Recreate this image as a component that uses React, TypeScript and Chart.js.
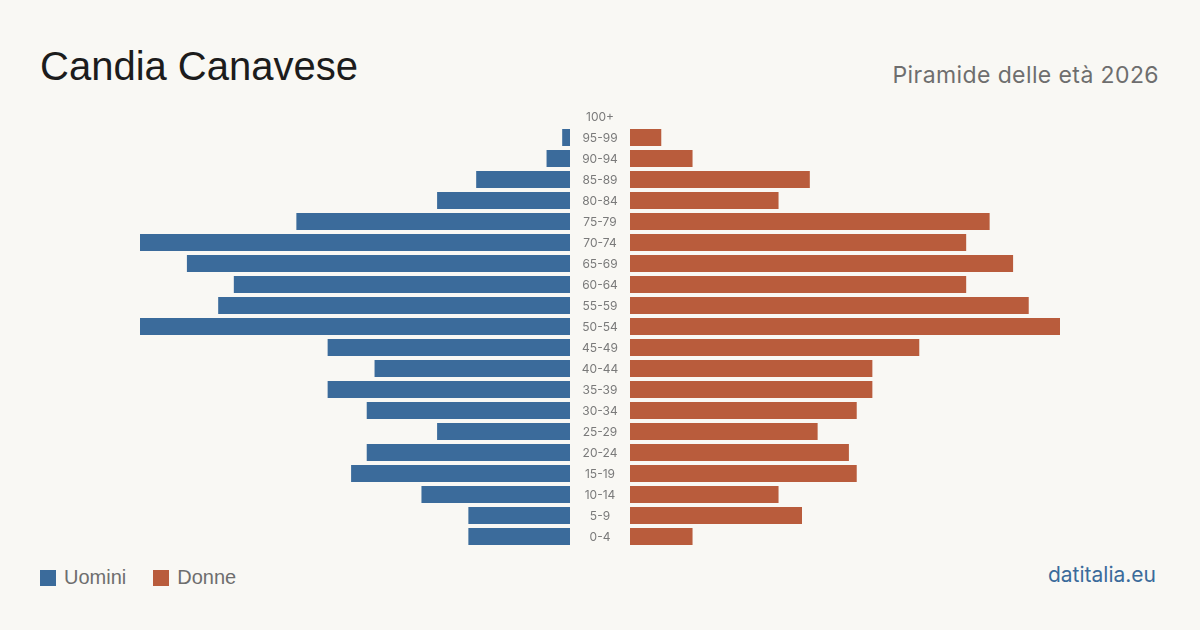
import React, { useEffect, useRef } from "react";
import { Chart, registerables } from "chart.js";

Chart.register(...registerables);

// Age groups, oldest first (top of the pyramid)
const ageGroups = [
  "100+", "95-99", "90-94", "85-89", "80-84", "75-79", "70-74", "65-69",
  "60-64", "55-59", "50-54", "45-49", "40-44", "35-39", "30-34", "25-29",
  "20-24", "15-19", "10-14", "5-9", "0-4",
];

// Residents per age group
const uomini = [0, 1, 3, 12, 17, 35, 55, 49, 43, 45, 55, 31, 25, 31, 26, 17, 26, 28, 19, 13, 13];
const donne = [0, 4, 8, 23, 19, 46, 43, 49, 43, 51, 55, 37, 31, 31, 29, 24, 28, 29, 19, 22, 8];

const axisMax = Math.max(...uomini, ...donne);

const BLUE = "#3b6b9b";
const ORANGE = "#b95c3c";
const BG = "#f9f8f4";
const FONT = "'Liberation Sans', Arial, sans-serif";
const FONT2 = "Inter, 'Liberation Sans', sans-serif";

// Draws the age-group labels in the gap left of the right-hand plot area
const centerLabels = {
  id: "centerLabels",
  afterDraw(chart: any) {
    const { ctx, chartArea, scales } = chart;
    ctx.save();
    ctx.fillStyle = "#7a7a7a";
    ctx.font = `12px ${FONT2}`;
    ctx.textAlign = "center";
    ctx.textBaseline = "middle";
    ageGroups.forEach((label, i) => {
      ctx.fillText(label, chartArea.left - 30, scales.y.getPixelForValue(i) + 1);
    });
    ctx.restore();
  },
};

function makeConfig(data: number[], color: string, reverse: boolean, withLabels: boolean): any {
  return {
    type: "bar",
    data: {
      labels: ageGroups,
      datasets: [
        {
          data,
          backgroundColor: color,
          borderWidth: 0,
          barPercentage: 0.81,
          categoryPercentage: 1,
        },
      ],
    },
    options: {
      indexAxis: "y",
      responsive: false,
      animation: false,
      maintainAspectRatio: false,
      layout: { padding: { left: withLabels ? 60 : 0, right: 0, top: 0, bottom: 0 } },
      plugins: { legend: { display: false }, tooltip: { enabled: false } },
      scales: {
        x: {
          display: false,
          min: 0,
          max: axisMax,
          reverse,
        },
        y: {
          display: false,
        },
      },
    },
    plugins: withLabels ? [centerLabels] : [],
  };
}

function PyramidSide({ data, color, reverse, withLabels, left, width }: any) {
  const ref = useRef<HTMLCanvasElement>(null);
  useEffect(() => {
    const chart = new Chart(ref.current!, makeConfig(data, color, reverse, withLabels));
    return () => chart.destroy();
  }, []);
  return (
    <canvas
      ref={ref}
      width={width}
      height={441}
      style={{ position: "absolute", left, top: 106, width, height: 441 }}
    />
  );
}

export default function App() {
  return (
    <div
      style={{
        position: "fixed",
        left: 0,
        top: 0,
        width: 1200,
        height: 630,
        background: BG,
        fontFamily: FONT,
        overflow: "hidden",
      }}
    >
      <div style={{ position: "absolute", left: 40, top: 42, fontSize: 40, color: "#1c1c1c", lineHeight: "48px" }}>
        Candia Canavese
      </div>
      <div
        style={{
          position: "absolute",
          right: 41,
          top: 61,
          fontSize: 23,
          letterSpacing: 0.4,
          color: "#6e6e6e",
          lineHeight: "28px",
          fontFamily: FONT2,
        }}
      >
        Piramide delle età 2026
      </div>

      <PyramidSide data={uomini} color={BLUE} reverse={true} withLabels={false} left={140} width={430} />
      <PyramidSide data={donne} color={ORANGE} reverse={false} withLabels={true} left={570} width={490} />

      <div style={{ position: "absolute", left: 40, top: 566, display: "flex", alignItems: "center", fontSize: 20, color: "#6e6e6e" }}>
        <span style={{ width: 16, height: 16, background: BLUE, display: "inline-block", marginRight: 8 }} />
        <span style={{ marginRight: 27 }}>Uomini</span>
        <span style={{ width: 16, height: 16, background: ORANGE, display: "inline-block", marginRight: 8 }} />
        <span>Donne</span>
      </div>
      <div style={{ position: "absolute", right: 44, top: 562, fontSize: 21, color: "#3b6b9b", lineHeight: "26px", fontFamily: FONT2 }}>
        datitalia.eu
      </div>
    </div>
  );
}
